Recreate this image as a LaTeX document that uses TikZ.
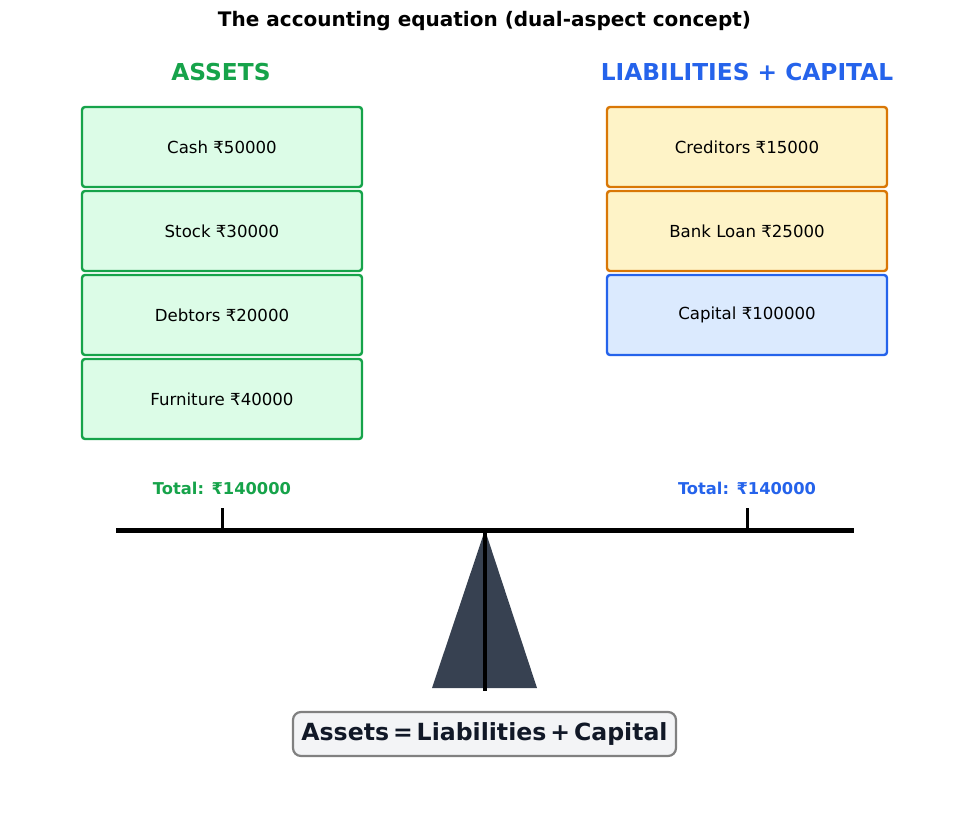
\documentclass[tikz,border=0pt]{standalone}
\usepackage{fontspec}
\setmainfont{DejaVu Sans}
\definecolor{agreen}{HTML}{16A34A}
\definecolor{agreenfill}{HTML}{DCFCE7}
\definecolor{lorange}{HTML}{D97706}
\definecolor{lorangefill}{HTML}{FEF3C7}
\definecolor{cblue}{HTML}{2563EB}
\definecolor{cbluefill}{HTML}{DBEAFE}
\definecolor{fulcrum}{HTML}{374151}
\definecolor{eqtext}{HTML}{111827}
\definecolor{eqfill}{HTML}{F3F4F6}
\definecolor{eqborder}{HTML}{808080}
\tikzset{
  itembox/.style={draw, line width=2.4pt, rounded corners=3pt, minimum width=280pt, minimum height=80pt, inner sep=0pt, font=\fontsize{16.6}{20}\selectfont},
  assetbox/.style={itembox, draw=agreen, fill=agreenfill},
  liabbox/.style={itembox, draw=lorange, fill=lorangefill},
  capbox/.style={itembox, draw=cblue, fill=cbluefill},
  heading/.style={font=\fontsize{23.3}{27}\selectfont\bfseries},
  totaltext/.style={font=\fontsize{16.3}{20}\selectfont\bfseries},
}
\begin{document}
\begin{tikzpicture}[x=1pt,y=-1pt]
\useasboundingbox (0,0) rectangle (969,826);
\node[font=\fontsize{20}{24}\selectfont\bfseries] (title) at (484.5,21) {The accounting equation (dual-aspect concept)};
\node[heading, text=agreen] (ah) at (221,72) {ASSETS};
\node[heading, text=cblue] (lh) at (747,72) {LIABILITIES + CAPITAL};
% assets
\node[assetbox] (cash) at (222,147) {Cash ₹50000};
\node[assetbox] (stock) at (222,231) {Stock ₹30000};
\node[assetbox] (debt) at (222,315) {Debtors ₹20000};
\node[assetbox] (furn) at (222,399) {Furniture ₹40000};
% liabilities
\node[liabbox] (cred) at (747,147) {Creditors ₹15000};
\node[liabbox] (loan) at (747,231) {Bank Loan ₹25000};
\node[capbox] (cap) at (747,315) {Capital ₹100000};
% totals
\node[totaltext, text=agreen] (lt) at (222,488) {Total: ₹140000};
\node[totaltext, text=cblue] (rt) at (747,488) {Total: ₹140000};
% balance
\coordinate (apex) at (485,530);
\coordinate (bl) at (432,688);
\coordinate (br) at (537,688);
\fill[fulcrum] (apex) -- (bl) -- (br) -- cycle;
\coordinate (pbot) at (485,691);
\draw[line width=4.5pt] (apex) -- (pbot);
\coordinate (beamL) at (116,530);
\coordinate (beamR) at (854,530);
\draw[line width=5pt] (beamL) -- (beamR);
\coordinate (tl) at (222,508);
\coordinate (tr) at (747,508);
\draw[line width=3pt] (tl) -- (222,530);
\draw[line width=3pt] (tr) -- (747,530);
% equation
\node[draw=eqborder, line width=2.2pt, fill=eqfill, rounded corners=8pt, minimum width=383pt, minimum height=44pt, inner sep=0pt, text=eqtext, font=\fontsize{23.6}{27}\selectfont\bfseries] (eq) at (484.5,734) {Assets\,=\,Liabilities\,+\,Capital};
\end{tikzpicture}
\end{document}
